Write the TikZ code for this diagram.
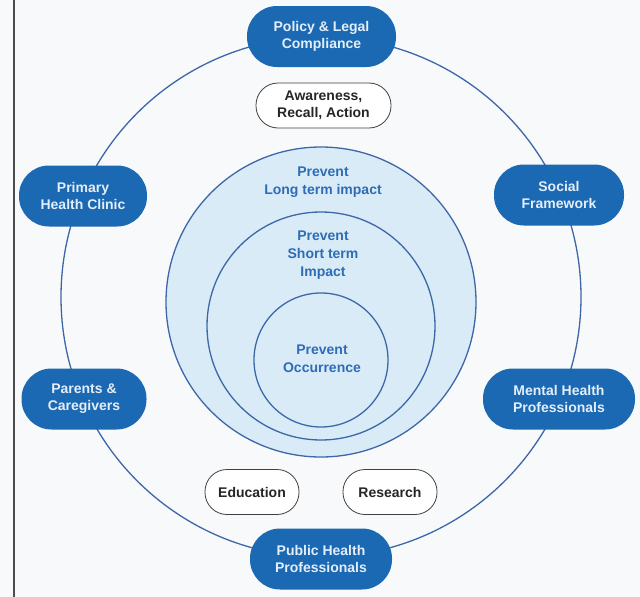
\documentclass[tikz,border=0pt]{standalone}
\usepackage{fontspec}
\setmainfont{Liberation Sans}
\usepackage{tikz}

\definecolor{nodeblue}{HTML}{1B68B3}
\definecolor{nodetext}{HTML}{E4EEF9}
\definecolor{ringline}{HTML}{3D67A8}
\definecolor{ringfill}{HTML}{DAEBF8}
\definecolor{prevtext}{HTML}{2E6CB5}
\definecolor{pagebg}{HTML}{F8F9FA}

\begin{document}
\begin{tikzpicture}[x=1pt,y=-1pt,
	actor/.style={fill=nodeblue, text=nodetext, rounded corners=30pt, minimum height=61pt,
		align=center, font=\bfseries\fontsize{14}{17}\selectfont},
	tool/.style={draw=black!75, line width=0.8pt, fill=white, text=black!85, rounded corners=22pt,
		minimum height=45pt, align=center, font=\bfseries\fontsize{14}{17}\selectfont},
	ring/.style={draw=ringline, line width=1.3pt},
	level/.style={text=prevtext, align=center, font=\bfseries\fontsize{14}{18}\selectfont}]

	\fill[pagebg] (0,0) rectangle (640,597);
	\useasboundingbox (0,0) rectangle (640,597);
	\draw[black!70, line width=1.5pt] (14,0) -- (14,597);

	\coordinate (o) at (321,297);
	\coordinate (c1) at (321,302);
	\coordinate (c2) at (321,326);
	\coordinate (c3) at (321,360);

	% outer ring
	\draw[ring] (o) circle (260);

	% prevention levels
	\draw[ring, fill=ringfill] (c1) circle (155);
	\draw[ring] (c2) circle (114);
	\draw[ring] (c3) circle (67);

	\node[level] (long) at (323,182) {Prevent\\Long term impact};
	\node[level] (short) at (323,255) {Prevent\\Short term\\Impact};
	\node[level] (occur) at (322,359) {Prevent\\Occurrence};

	% stakeholders
	\node[actor, minimum width=149pt] (policy) at (321.5,36.5) {Policy \& Legal\\Compliance};
	\node[actor, minimum width=128pt] (primary) at (83,196) {Primary\\Health Clinic};
	\node[actor, minimum width=130pt] (social) at (559,195) {Social\\Framework};
	\node[actor, minimum width=125pt] (parents) at (84,399) {Parents \&\\Caregivers};
	\node[actor, minimum width=152pt] (mental) at (559,399) {Mental Health\\Professionals};
	\node[actor, minimum width=142pt] (public) at (321,559) {Public Health\\Professionals};

	% tools
	\node[tool, minimum width=135pt] (aware) at (323.5,105.5) {Awareness,\\Recall, Action};
	\node[tool, minimum width=94pt] (edu) at (252,492) {Education};
	\node[tool, minimum width=94pt] (research) at (390,492) {Research};

\end{tikzpicture}
\end{document}
